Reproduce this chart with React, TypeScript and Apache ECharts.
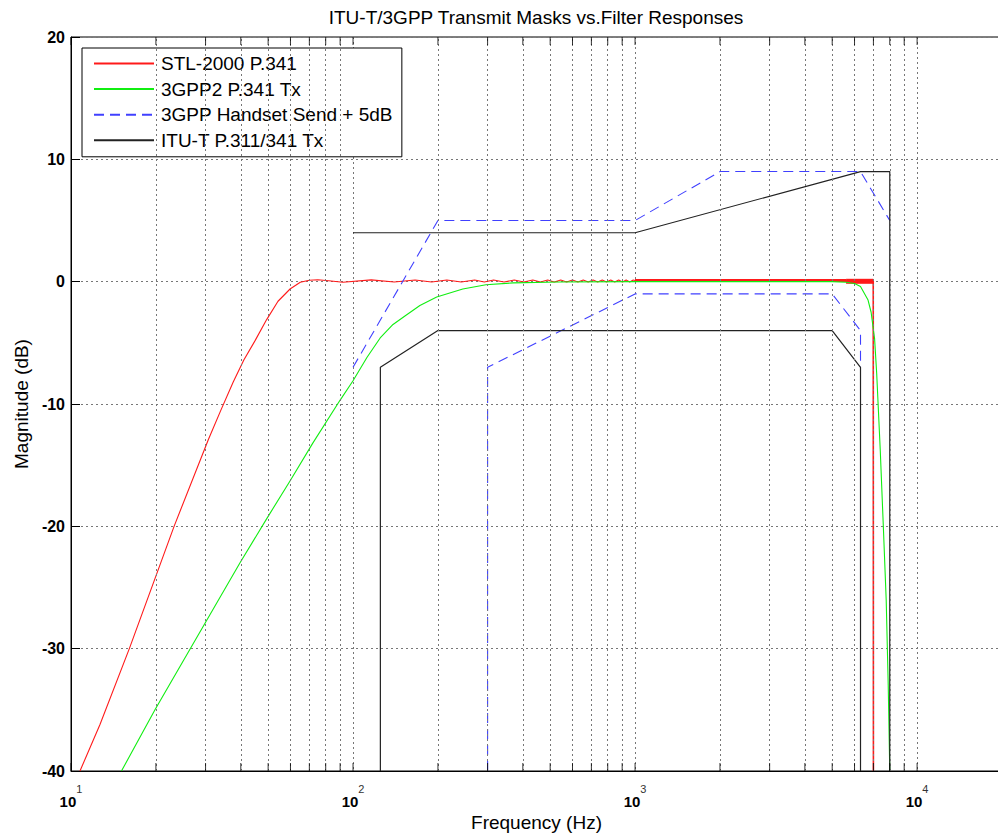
import React, { useEffect, useRef } from "react";
import * as echarts from "echarts";

const FONT = "'Liberation Sans', Arial, Helvetica, sans-serif";

const titleText = "ITU-T/3GPP Transmit Masks vs.Filter Responses";
const xName = "Frequency (Hz)";
const yName = "Magnitude (dB)";

const xMin = 10;
const xMax = 20000;
const yMin = -40;
const yMax = 20;
const yStep = 10;

const decadeTicks = [10, 100, 1000, 10000];
const minorTicks = [
  20, 30, 40, 50, 60, 70, 80, 90,
  200, 300, 400, 500, 600, 700, 800, 900,
  2000, 3000, 4000, 5000, 6000, 7000, 8000, 9000,
];

// STL-2000 P.341 (red): high-pass rise and passband ripple
const stlFreq = [
  10.76, 12.67, 16.1, 23.2, 30.7, 34, 37.6, 41, 45, 49.4, 54.2, 59.8, 65, 70,
  75, 82, 92, 116, 140, 166, 190, 215, 242, 270, 292, 315, 343, 373, 403, 434,
  462, 490, 517, 545, 572, 600, 627, 655, 682, 710, 737, 765, 792, 820, 847,
  875, 902, 930, 957, 985, 1000,
];
const stlMag = [
  -40, -36.2, -30, -20, -12.9, -10.5, -8.2, -6.4, -4.8, -3.1, -1.6, -0.6, -0.05,
  0.12, 0.16, 0.08, -0.05, 0.15, -0.03, 0.14, -0.03, 0.14, -0.03, 0.13, -0.03,
  0.13, -0.03, 0.13, -0.03, 0.13, -0.03, 0.13, -0.03, 0.13, -0.03, 0.13, -0.03,
  0.13, -0.03, 0.13, -0.03, 0.13, -0.03, 0.13, -0.03, 0.13, -0.03, 0.13, -0.03,
  0.13, 0.1,
];
// dense ripple band (too fine to resolve) and the cut-off edge
const stlBandAFreq = [1000, 5600];
const stlBandAMag = [0.1, 0.1];
const stlBandBFreq = [5600, 6990];
const stlBandBMag = [0.03, 0.03];
const stlTailFreq = [1000, 6990, 7000, 7000];
const stlTailMag = [0.1, 0.05, 0.05, -40];

// 3GPP2 P.341 Tx (green)
const g2Freq = [
  15.1, 19.85, 29.9, 39.7, 49.5, 60.3, 72, 89.9, 100, 112, 124.8, 138.6, 155,
  172.6, 198, 245, 296, 369, 540, 1000, 3000, 5000, 5600, 6000, 6300, 6700,
  6870, 7070, 7190, 7400, 7590, 7770, 7900, 8000,
];
const g2Mag = [
  -40, -35.0, -27.9, -23.0, -19.35, -16.15, -13.2, -9.7, -8.1, -6.2, -4.6, -3.5,
  -2.7, -1.95, -1.25, -0.6, -0.25, -0.1, -0.03, 0, 0, 0, -0.05, -0.15, -0.4,
  -1.5, -2.5, -4.7, -7.5, -13.7, -20, -26, -33, -40,
];

// 3GPP Handset Send + 5dB (blue dashed)
const gppUpperFreq = [100, 200, 1000, 2000, 6300, 8000];
const gppUpperMag = [-7, 5, 5, 9, 9, 5];
const gppLowerFreq = [300, 300, 1000, 5000, 6300, 6300];
const gppLowerMag = [-40, -7, -1, -1, -4, -7];

// ITU-T P.311/341 Tx (black)
const ituUpperFreq = [100, 1000, 6300, 8000, 8000];
const ituUpperMag = [4, 4, 9, 9, -40];
const ituLowerFreq = [125, 125, 200, 5000, 6300, 6300];
const ituLowerMag = [-40, -7, -4, -4, -7, -40];

const nameSTL = "STL-2000 P.341";
const name3G2 = "3GPP2 P.341 Tx";
const name3G = "3GPP Handset Send + 5dB";
const nameITU = "ITU-T P.311/341 Tx";

const zip = (xs: number[], ys: number[]) => xs.map((x, i) => [x, ys[i]]);

const supers: Record<number, string> = { 10: "1", 100: "2", 1000: "3", 10000: "4" };

export default function App() {
  const ref = useRef<HTMLDivElement>(null);
  useEffect(() => {
    if (!ref.current) return;
    const chart = echarts.init(ref.current, null, { renderer: "svg" });
    const allTicks = [...decadeTicks, ...minorTicks];
    const lineSeries = (
      name: string,
      data: number[][],
      color: string,
      width: number,
      type: any = "solid",
    ) => ({
      type: "line",
      name,
      data,
      symbol: "none",
      showSymbol: false,
      silent: true,
      lineStyle: { color, width, type },
      itemStyle: { color: "rgba(0,0,0,0)", borderWidth: 0 },
      z: 3,
    });
    const option: any = {
      animation: false,
      backgroundColor: "#ffffff",
      textStyle: { fontFamily: FONT },
      grid: {
        left: 71,
        top: 37,
        width: 931,
        height: 734,
        show: true,
        borderColor: "#000",
        borderWidth: 1,
        backgroundColor: "#fff",
        outerBoundsMode: "none",
      },
      graphic: [
        {
          type: "text",
          x: 536,
          y: 17,
          style: {
            text: titleText,
            fontFamily: FONT,
            fontSize: 19,
            fill: "#000",
            textAlign: "center",
            textVerticalAlign: "middle",
          },
        },
      ],
      legend: {
        orient: "vertical",
        left: 82,
        top: 48,
        data: [nameSTL, name3G2, name3G, nameITU],
        itemWidth: 60,
        itemHeight: 14,
        itemGap: 6.6,
        padding: [6, 9, 7, 11],
        borderColor: "#000",
        borderWidth: 1,
        backgroundColor: "#fff",
        selectedMode: false,
        itemStyle: { opacity: 0 },
        textStyle: { fontFamily: FONT, fontSize: 19, color: "#000", padding: [0, 0, 0, 2] },
      },
      xAxis: {
        type: "log",
        logBase: 10,
        min: xMin,
        max: xMax,
        name: xName,
        nameLocation: "middle",
        nameGap: 42,
        nameTextStyle: { fontFamily: FONT, fontSize: 19, color: "#000" },
        axisLine: { show: true, onZero: false, lineStyle: { color: "#000", width: 1 } },
        axisTick: { show: false },
        splitLine: { show: true, lineStyle: { color: "#777", type: [2, 3], width: 1 } },
        axisLabel: {
          margin: 12,
          color: "#000",
          formatter: (v: number) => {
            const s = supers[Math.round(v)];
            if (!s || Math.abs(v - Math.round(v)) > 1e-6) return "";
            return `{b|10}{s|${s}}`;
          },
          rich: {
            b: { fontFamily: FONT, fontSize: 15, fontWeight: "bold", color: "#000", lineHeight: 36 },
            s: { fontFamily: FONT, fontSize: 11, color: "#333", lineHeight: 10, verticalAlign: "top" },
          },
        },
      },
      yAxis: {
        type: "value",
        min: yMin,
        max: yMax,
        interval: yStep,
        name: yName,
        nameLocation: "middle",
        nameGap: 40,
        nameTextStyle: { fontFamily: FONT, fontSize: 19, color: "#000" },
        axisLine: { show: true, onZero: false, lineStyle: { color: "#000", width: 1 } },
        axisTick: { show: true, inside: true, length: 9, lineStyle: { color: "#000" } },
        splitLine: { show: true, lineStyle: { color: "#777", type: [2, 3], width: 1 } },
        axisLabel: {
          margin: 6,
          color: "#000",
          fontFamily: FONT,
          fontSize: 16,
          fontWeight: "bold",
        },
      },
      series: [
        {
          type: "line",
          name: "minor-grid",
          data: [],
          silent: true,
          z: 1,
          markLine: {
            silent: true,
            symbol: ["none", "none"],
            label: { show: false },
            lineStyle: { color: "#777", type: [2, 3], width: 1 },
            data: minorTicks.map((f) => ({ xAxis: f })),
            animation: false,
          },
        },
        lineSeries(nameSTL, zip(stlFreq, stlMag), "#ff1a1a", 1.1),
        lineSeries(nameSTL, zip(stlBandAFreq, stlBandAMag), "#ff1a1a", 3),
        lineSeries(nameSTL, zip(stlBandBFreq, stlBandBMag), "#ff1a1a", 5),
        lineSeries(nameSTL, zip(stlTailFreq, stlTailMag), "#ff1a1a", 1.6),
        lineSeries(name3G2, zip(g2Freq, g2Mag), "#11ee11", 1.1),
        lineSeries(name3G, zip(gppUpperFreq, gppUpperMag), "#4040ff", 1.1, [10, 6]),
        lineSeries(name3G, zip(gppLowerFreq, gppLowerMag), "#4040ff", 1.1, [10, 6]),
        lineSeries(nameITU, zip(ituUpperFreq, ituUpperMag), "#222222", 1.2),
        lineSeries(nameITU, zip(ituLowerFreq, ituLowerMag), "#222222", 1.2),
        {
          type: "scatter",
          name: "ticks-bottom",
          data: allTicks.map((f) => [f, yMin]),
          symbol: "rect",
          symbolSize: [1, 8],
          symbolOffset: [0, -4],
          itemStyle: { color: "#000" },
          silent: true,
          clip: false,
          z: 5,
        },
        {
          type: "scatter",
          name: "ticks-top",
          data: allTicks.map((f) => [f, yMax]),
          symbol: "rect",
          symbolSize: [1, 8],
          symbolOffset: [0, 4],
          itemStyle: { color: "#000" },
          silent: true,
          clip: false,
          z: 5,
        },
      ],
    };
    chart.setOption(option);
    return () => chart.dispose();
  }, []);
  return (
    <div
      ref={ref}
      style={{ position: "fixed", left: 0, top: 0, width: 1010, height: 835, background: "#fff" }}
    />
  );
}
